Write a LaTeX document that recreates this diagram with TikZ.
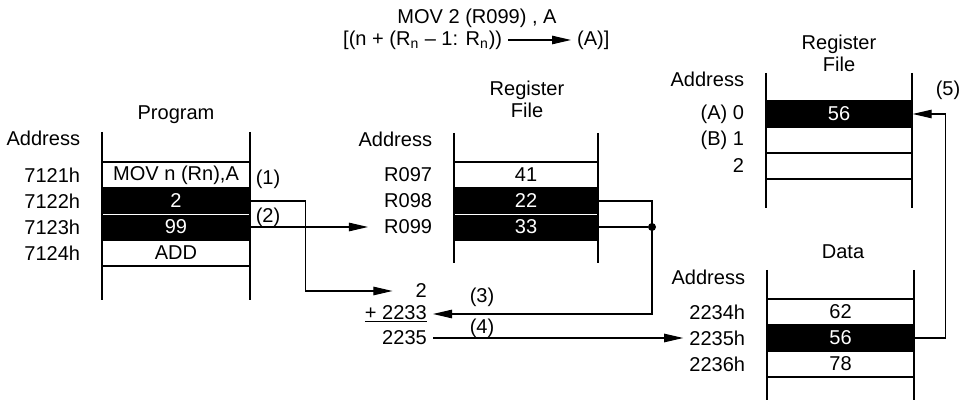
\documentclass[tikz,border=0pt]{standalone}
\usepackage{fontspec}
\setmainfont{Liberation Sans}
\usetikzlibrary{arrows.meta, positioning}

\begin{document}
\begin{tikzpicture}[>={Triangle[length=3.8mm,width=1.7mm]},
    font=\fontsize{11.4}{12.5}\selectfont,
    cell/.style={rectangle, draw, line width=0.8pt, minimum width=#1, minimum height=0.52cm, inner sep=0pt},
    hot/.style={fill=black, text=white},
    bar/.style={line width=1.2pt},
    wire/.style={line width=0.6pt},
    dot/.style={circle, fill, inner sep=0pt, minimum size=0.16cm}]

\useasboundingbox (0,0) rectangle (19.34,8);

% instruction
\node (ins) at (9.54,7.64) {MOV 2 (R099) , A};
\node[anchor=west] (expr) at (6.74,7.2) {[(n + (R\textsubscript{n} – 1: R\textsubscript{n}))};
\node[anchor=west] (dest) at (11.42,7.2) {(A)]};
\draw[wire,->] (expr) -- (dest);

% program memory
\node (prog) at (3.52,5.70) {Program};
\node[cell=2.96cm] (p1) at (3.52,4.50) {MOV n (Rn),A};
\node[cell=2.96cm, hot] (p2) at (3.52,3.98) {2};
\node[cell=2.96cm, hot] (p3) at (3.52,3.46) {99};
\node[cell=2.96cm] (p4) at (3.52,2.94) {ADD};
\draw[white, line width=0.8pt] (p2.south west) -- (p2.south east);
\draw[bar] (2.04,5.36) -- (2.04,2.0);
\draw[bar] (5.0,5.36) -- (5.0,2.0);

\node[left=0.3cm of p1] (a7121) {7121h};
\node[left=0.3cm of p2] (a7122) {7122h};
\node[left=0.3cm of p3] (a7123) {7123h};
\node[left=0.3cm of p4] (a7124) {7124h};
\node[anchor=east] (padr) at ([yshift=0.74cm]a7121.east) {Address};

% register file
\node[align=center] (rtitle) at (10.54,6.02) {Register\\File};
\node[cell=2.88cm] (r97) at (10.52,4.50) {41};
\node[cell=2.88cm, hot] (r98) at (10.52,3.98) {22};
\node[cell=2.88cm, hot] (r99) at (10.52,3.46) {33};
\draw[white, line width=0.8pt] (r98.south west) -- (r98.south east);
\draw[bar] (9.08,5.34) -- (9.08,2.74);
\draw[bar] (11.96,5.34) -- (11.96,2.74);

\node[left=0.3cm of r97] (a097) {R097};
\node[left=0.3cm of r98] (a098) {R098};
\node[left=0.3cm of r99] (a099) {R099};
\node[anchor=east] (radr) at ([yshift=0.72cm]a097.east) {Address};

% accumulator registers
\node[align=center] (atitle) at (16.78,6.94) {Register\\File};
\node[cell=2.92cm, hot] (ra) at (16.78,5.72) {56};
\node[cell=2.92cm] (rb) at (16.78,5.20) {};
\node[cell=2.92cm] (rc) at (16.78,4.68) {};
\draw[bar] (15.32,6.54) -- (15.32,3.84);
\draw[bar] (18.24,6.54) -- (18.24,3.84);

\node[left=0.3cm of ra] (aA) {(A) 0};
\node[left=0.3cm of rb] (aB) {(B) 1};
\node[left=0.3cm of rc] (aC) {2};
\node[anchor=east] (aadr) at ([yshift=0.70cm]aA.east) {Address};

% data memory
\node (dtitle) at (16.86,2.96) {Data};
\node[cell=2.94cm] (d62) at (16.81,1.76) {62};
\node[cell=2.94cm, hot] (d56) at (16.81,1.24) {56};
\node[cell=2.94cm] (d78) at (16.81,0.72) {78};
\draw[bar] (15.34,2.60) -- (15.34,0);
\draw[bar] (18.28,2.60) -- (18.28,0);

\node[left=0.3cm of d62] (a2234) {2234h};
\node[left=0.3cm of d56] (a2235) {2235h};
\node[left=0.3cm of d78] (a2236) {2236h};
\node[anchor=east] (dadr) at ([yshift=0.70cm]a2234.east) {Address};

% address sum
\node[anchor=east] (n2) at (8.66,2.18) {2};
\node[anchor=east] (nsum) at (8.66,1.72) {\underline{+ 2233}};
\node[anchor=east] (nres) at (8.66,1.24) {2235};

% steps
\draw[wire,->] (p2.east) -- ++(1.1,0) |- ([xshift=-0.34cm]n2.west);
\node (lab1) at (5.36,4.42) {(1)};
\draw[wire,->] (p3.east) -- ([xshift=-0.2cm]a099.west);
\node (lab2) at (5.36,3.66) {(2)};

\node[dot] (jn) at (13.04,3.46) {};
\draw[wire] (r99.east) -- (jn);
\draw[wire,->] (r98.east) -| (jn.center) |- (nsum.east);
\node (lab3) at (9.64,2.06) {(3)};

\draw[wire,->] (nres.east) -- (a2235.west);
\node (lab4) at (9.64,1.44) {(4)};

\draw[wire,->] (d56.east) -- ++(0.62,0) |- (ra.east);
\node (lab5) at (18.96,6.2) {(5)};

\end{tikzpicture}
\end{document}
